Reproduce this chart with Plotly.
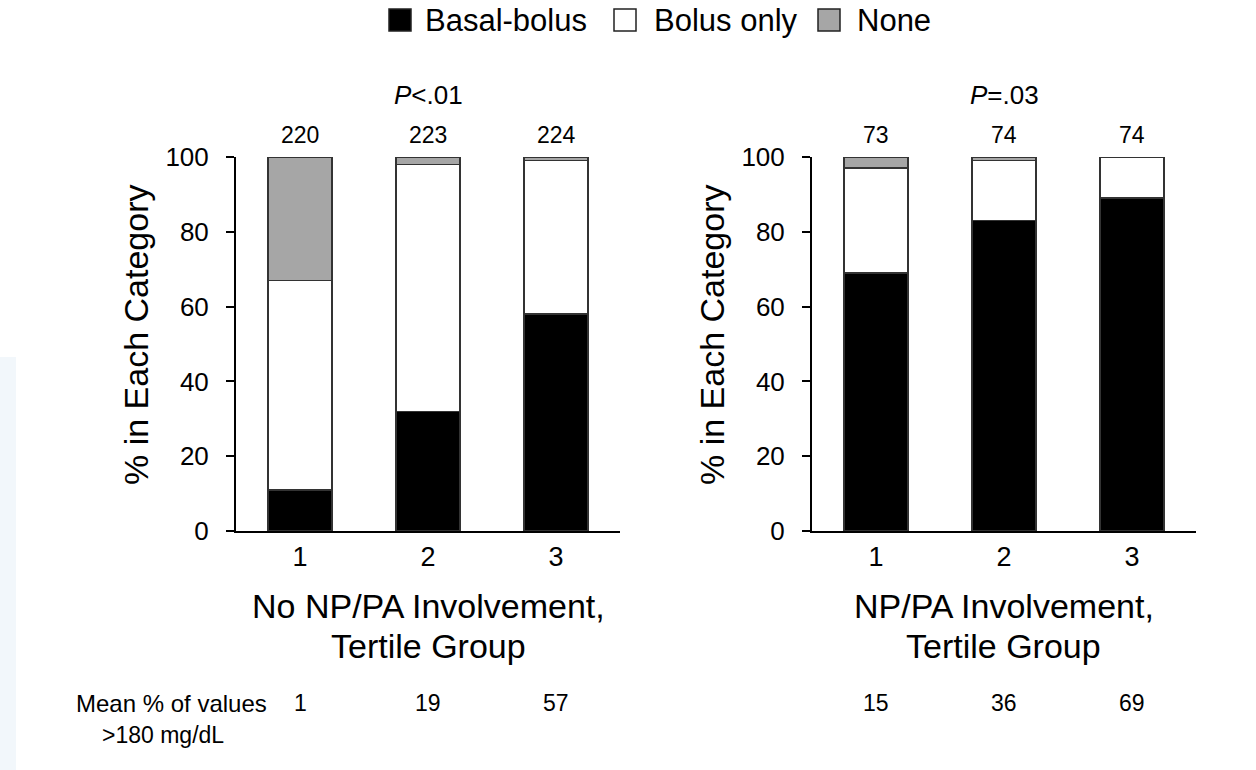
import plotly.graph_objects as go

# Tertile groups and stacked shares (% in each insulin category)
tertiles = ["1", "2", "3"]
basal_bolus_no_np = [11, 32, 58]
bolus_only_no_np = [56, 66, 41]
none_no_np = [33, 2, 1]

basal_bolus_np = [69, 83, 89]
bolus_only_np = [28, 16, 11]
none_np = [3, 1, 0]

# Group sizes shown above the bars
n_no_np = [220, 223, 224]
n_np = [73, 74, 74]

# Mean % of glucose values >180 mg/dL per tertile
mean_high_no_np = [1, 19, 57]
mean_high_np = [15, 36, 69]

p_labels = ["<i>P</i>&lt;.01", "<i>P</i>=.03"]
x_titles = [("No NP/PA Involvement,", "Tertile Group"), ("NP/PA Involvement,", "Tertile Group")]
series_names = ["Basal-bolus", "Bolus only", "None"]
series_colors = ["#000000", "#ffffff", "#a6a6a6"]

W, H = 1256, 770
FONT = "Liberation Sans, Arial, sans-serif"
xpos = [1, 2, 3]

fig = go.Figure()

panels = [
    ("x", "y", [basal_bolus_no_np, bolus_only_no_np, none_no_np]),
    ("x2", "y2", [basal_bolus_np, bolus_only_np, none_np]),
]
for xa, ya, stacks in panels:
    for name, color, vals in zip(series_names, series_colors, stacks):
        fig.add_trace(go.Bar(
            x=xpos, y=vals, name=name, xaxis=xa, yaxis=ya,
            width=0.5, showlegend=False,
            marker=dict(color=color, line=dict(color="#333333", width=1.5)),
        ))

def px_x(p):
    return p / W

def px_y(p):
    return 1 - p / H

x_domains = [[px_x(236), px_x(620)], [px_x(812), px_x(1196)]]
y_domain = [px_y(531), px_y(157)]

axis_common = dict(
    showline=True, linecolor="black", linewidth=2,
    showgrid=False, zeroline=False, automargin=False,
)
for i, xd in enumerate(x_domains):
    sfx = "" if i == 0 else "2"
    fig.update_layout(**{
        f"xaxis{sfx}": dict(
            domain=xd, range=[0.5, 3.5], anchor=f"y{sfx}",
            tickvals=xpos, ticktext=tertiles, ticks="",
            tickfont=dict(size=27, color="black", family=FONT),
            ticklabelstandoff=1, **axis_common,
        ),
        f"yaxis{sfx}": dict(
            domain=y_domain, range=[0, 100], anchor=f"x{sfx}",
            tickvals=[0, 20, 40, 60, 80, 100], ticks="outside",
            ticklen=8, tickwidth=2, tickcolor="black",
            tickfont=dict(size=26, color="black", family=FONT),
            ticklabelstandoff=12, **axis_common,
        ),
    })

annotations = []
shapes = []

# Panel annotations: P values, group sizes, axis titles, bottom row
for i, (ns, means) in enumerate([(n_no_np, mean_high_no_np), (n_np, mean_high_np)]):
    xr = "x" if i == 0 else "x2"
    yr = "y" if i == 0 else "y2"
    annotations.append(dict(
        x=2, y=100, xref=xr, yref=yr, text=p_labels[i], showarrow=False,
        yanchor="middle", yshift=62, font=dict(size=26, family=FONT, color="black"),
    ))
    for xv, n in zip(xpos, ns):
        annotations.append(dict(
            x=xv, y=100, xref=xr, yref=yr, text=str(n), showarrow=False,
            yanchor="middle", yshift=22, font=dict(size=23, family=FONT, color="black"),
        ))
    for xv, m in zip(xpos, means):
        annotations.append(dict(
            x=xv, y=px_y(703), xref=xr, yref="paper", text=str(m), showarrow=False,
            yanchor="middle", font=dict(size=23, family=FONT, color="black"),
        ))
    xc = sum(x_domains[i]) / 2
    for line, yc in zip(x_titles[i], (606, 646)):
        annotations.append(dict(
            x=xc, y=px_y(yc), xref="paper", yref="paper", text=line,
            showarrow=False, yanchor="middle", xanchor="center",
            font=dict(size=34, family=FONT, color="black"),
        ))
    annotations.append(dict(
        x=px_x(136 + 576 * i), y=px_y(335), xref="paper", yref="paper",
        text="% in Each Category", textangle=-90, showarrow=False,
        xanchor="center", yanchor="middle",
        font=dict(size=34, family=FONT, color="black"),
    ))

annotations.append(dict(
    x=px_x(171), y=px_y(703), xref="paper", yref="paper", text="Mean % of values",
    showarrow=False, xanchor="center", yanchor="middle",
    font=dict(size=24, family=FONT, color="black"),
))
annotations.append(dict(
    x=px_x(163), y=px_y(735), xref="paper", yref="paper", text="&gt;180 mg/dL",
    showarrow=False, xanchor="center", yanchor="middle",
    font=dict(size=23, family=FONT, color="black"),
))

# Legend drawn as swatches + labels across the top
legend_items = [(389, 423), (614, 652), (818, 855)]
for (sx, tx), name, color in zip(legend_items, series_names, series_colors):
    shapes.append(dict(
        type="rect", xref="paper", yref="paper",
        x0=px_x(sx), x1=px_x(sx + 22), y0=px_y(31), y1=px_y(9),
        fillcolor=color, line=dict(color="#222222", width=1.5),
    ))
    annotations.append(dict(
        x=px_x(tx), y=px_y(20), xref="paper", yref="paper", text=name,
        showarrow=False, xanchor="left", yanchor="middle",
        font=dict(size=31, family=FONT, color="black"),
    ))

# Faint tint along the left edge of the slide
shapes.append(dict(
    type="rect", xref="paper", yref="paper", layer="below",
    x0=0, x1=px_x(16), y0=0, y1=px_y(357),
    fillcolor="#f2f7fb", line=dict(width=0),
))

fig.update_layout(
    width=W, height=H, margin=dict(l=0, r=0, t=0, b=0, pad=0),
    barmode="stack", bargap=0.5,
    paper_bgcolor="white", plot_bgcolor="white",
    font=dict(family=FONT, color="black"),
    annotations=annotations, shapes=shapes,
    showlegend=False,
)

fig.write_html("out.html")
